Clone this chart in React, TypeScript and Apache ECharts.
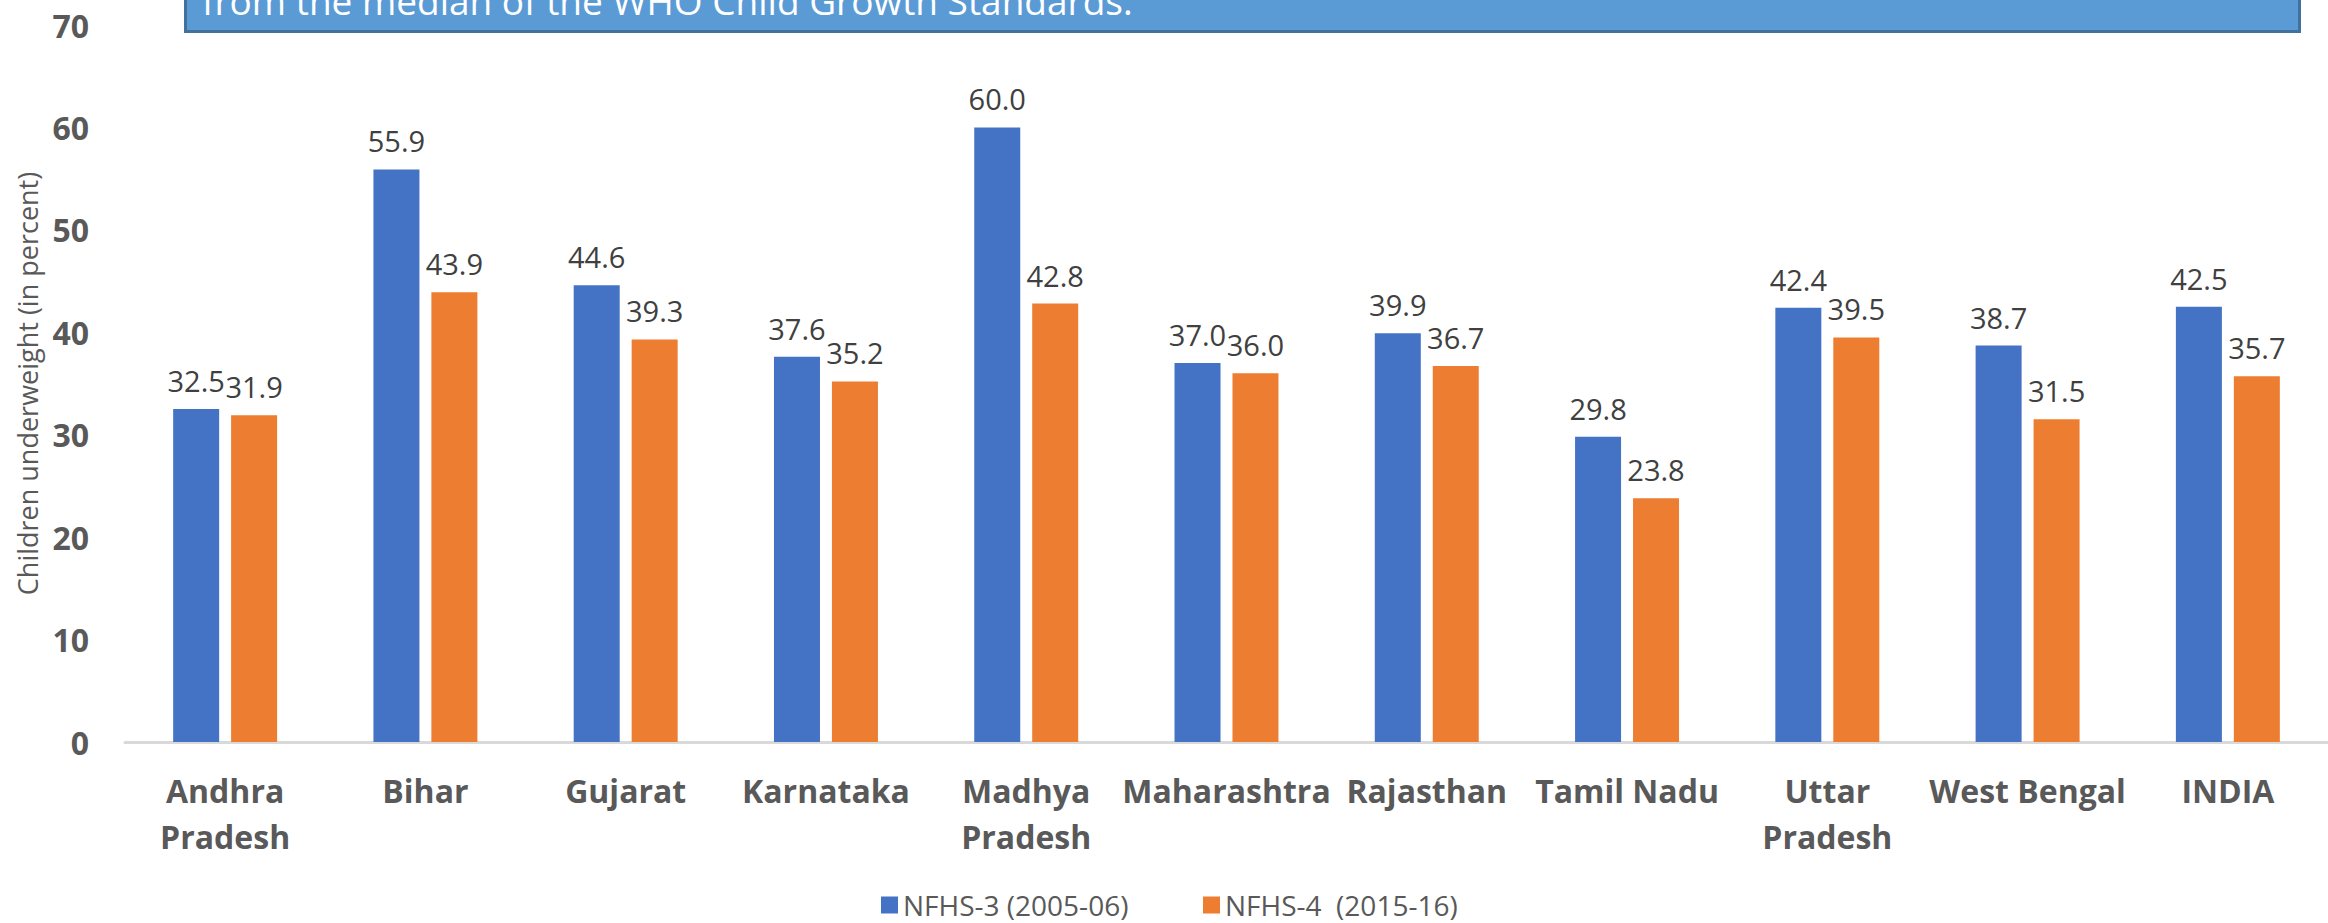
import React, { useEffect, useRef } from "react";
import * as echarts from "echarts";

const categories = [
  "Andhra\nPradesh",
  "Bihar",
  "Gujarat",
  "Karnataka",
  "Madhya\nPradesh",
  "Maharashtra",
  "Rajasthan",
  "Tamil Nadu",
  "Uttar\nPradesh",
  "West Bengal",
  "INDIA",
];
const nfhs3 = [32.5, 55.9, 44.6, 37.6, 60.0, 37.0, 39.9, 29.8, 42.4, 38.7, 42.5];
const nfhs4 = [31.9, 43.9, 39.3, 35.2, 42.8, 36.0, 36.7, 23.8, 39.5, 31.5, 35.7];
const seriesNames = ["NFHS-3 (2005-06)", "NFHS-4  (2015-16)"];
const yTicks = { min: 0, max: 70, interval: 10 };
const yAxisName = "Children underweight (in percent)";
const boxText = "from the median of the WHO Child Growth Standards.";

const FONT = "'Open Sans', 'DejaVu Sans', sans-serif";

export default function App() {
  const ref = useRef<HTMLDivElement>(null);
  useEffect(() => {
    document.body.style.margin = "0";
    if (!ref.current) return;
    const chart = echarts.init(ref.current, undefined, { renderer: "svg" });
    const labelCfg = {
      show: true,
      position: "top",
      distance: 14,
      fontFamily: FONT,
      fontSize: 29,
      color: "#404040",
      formatter: (p: any) => Number(p.value).toFixed(1),
    };
    const legendText = { fontFamily: FONT, fontSize: 28, color: "#595959" };
    chart.setOption({
      animation: false,
      backgroundColor: "#ffffff",
      textStyle: { fontFamily: FONT },
      grid: { left: 125, top: 25, width: 2221, height: 717, containLabel: false },
      legend: [
        {
          data: [seriesNames[0]],
          left: 876,
          top: 886,
          icon: "rect",
          itemWidth: 17,
          itemHeight: 17,
          textStyle: legendText,
        },
        {
          data: [seriesNames[1]],
          left: 1198,
          top: 886,
          icon: "rect",
          itemWidth: 17,
          itemHeight: 17,
          textStyle: legendText,
        },
      ],
      xAxis: {
        type: "category",
        data: categories,
        axisLine: { show: true, lineStyle: { color: "#D9D9D9", width: 3 } },
        axisTick: { show: false },
        axisLabel: {
          interval: 0,
          margin: 25,
          fontFamily: FONT,
          fontSize: 32,
          fontWeight: "bold",
          color: "#595959",
          lineHeight: 46,
        },
      },
      yAxis: {
        type: "value",
        min: yTicks.min,
        max: yTicks.max,
        interval: yTicks.interval,
        name: yAxisName,
        nameLocation: "middle",
        nameGap: 84,
        nameTextStyle: { fontFamily: FONT, fontSize: 27, color: "#595959" },
        axisLine: { show: false },
        axisTick: { show: false },
        splitLine: { show: false },
        axisLabel: {
          margin: 36,
          fontFamily: FONT,
          fontSize: 32,
          fontWeight: "bold",
          color: "#595959",
        },
      },
      series: [
        {
          name: seriesNames[0],
          type: "bar",
          data: nfhs3,
          barWidth: 46,
          barGap: "26%",
          itemStyle: { color: "#4472C4" },
          label: labelCfg,
        },
        {
          name: seriesNames[1],
          type: "bar",
          data: nfhs4,
          barWidth: 46,
          barGap: "26%",
          itemStyle: { color: "#ED7D31" },
          label: labelCfg,
        },
      ],
      graphic: [
        {
          type: "rect",
          left: 184,
          top: -12,
          shape: { width: 2114, height: 42 },
          style: { fill: "#5B9BD5", stroke: "#41719C", lineWidth: 3 },
          z: 10,
        },
        {
          type: "text",
          x: 202,
          y: 0,
          style: {
            text: boxText,
            fill: "#ffffff",
            fontFamily: FONT,
            fontSize: 37,
            verticalAlign: "middle",
            align: "left",
          },
          z: 11,
        },
      ],
    });
    return () => chart.dispose();
  }, []);
  return <div ref={ref} style={{ width: 2328, height: 923 }} />;
}
